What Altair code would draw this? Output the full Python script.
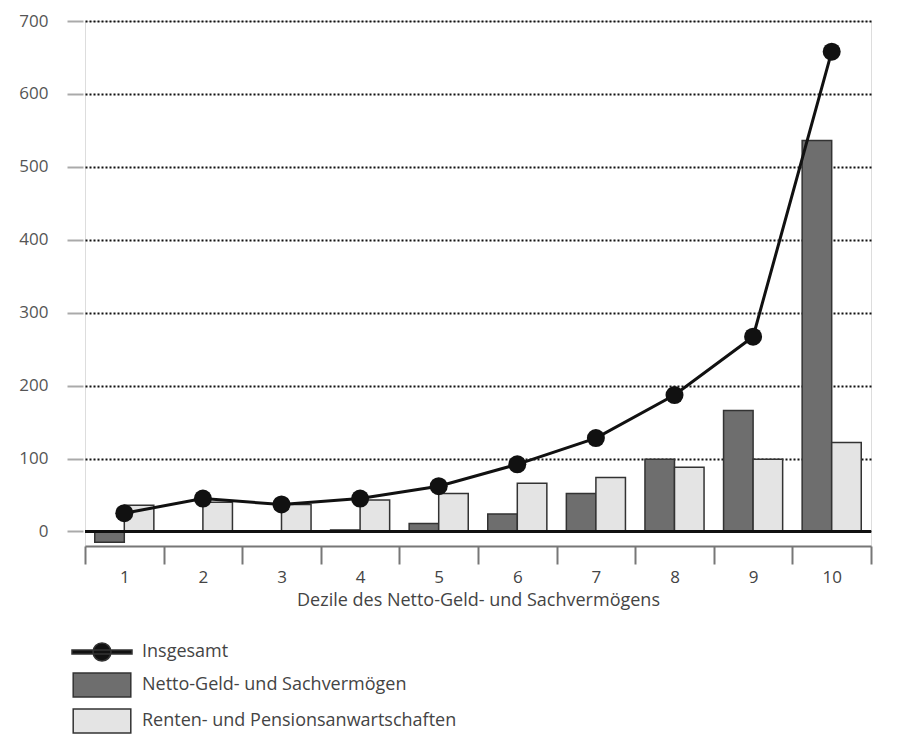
import altair as alt
import pandas as pd

deciles = ["1", "2", "3", "4", "5", "6", "7", "8", "9", "10"]
insgesamt = [25, 45, 37, 45, 62, 92, 128, 187, 267, 658]
netto = [-15, 0, 0, 2, 11, 24, 52, 99, 166, 536]
renten = [36, 40, 37, 43, 52, 66, 74, 88, 99, 122]

series_names = ["Insgesamt", "Netto-Geld- und Sachvermögen", "Renten- und Pensionsanwartschaften"]
series_colors = ["#111111", "#6e6e6e", "#e4e4e4"]
y_ticks = [0, 100, 200, 300, 400, 500, 600, 700]
x_title = "Dezile des Netto-Geld- und Sachvermögens"

LINE_SYM = "M-2.5,-0.17H2.5V0.17H-2.5Z M-0.75,0A0.75,0.75 0 1,1 0.75,0A0.75,0.75 0 1,1 -0.75,0Z"
RECT_SYM = "M-2.4,-1H2.4V1H-2.4Z"

FONT = "Open Sans"

bars_df = pd.DataFrame({
    "Dezil": deciles * 2,
    "Serie": [series_names[1]] * len(deciles) + [series_names[2]] * len(deciles),
    "Wert": netto + renten,
})
line_df = pd.DataFrame({"Dezil": deciles, "Wert": insgesamt})
legend_df = pd.DataFrame({"Serie": series_names})

x_enc = alt.X(
    "Dezil:N", sort=deciles,
    scale=alt.Scale(paddingInner=0, paddingOuter=0),
    axis=alt.Axis(
        title=x_title, tickBand="extent", labelAngle=0, grid=False,
        domainColor="#777", domainWidth=2, tickColor="#777", tickWidth=2, tickSize=18,
        labelPadding=5, labelFontSize=17, labelColor="#444", labelFont=FONT,
        titleFontSize=18, titleColor="#444", titleFont=FONT, titleFontWeight="normal", titlePadding=6,
    ),
)
y_enc = alt.Y(
    "Wert:Q",
    scale=alt.Scale(domain=[-20, 700], nice=False, zero=False),
    axis=alt.Axis(
        title=None, values=y_ticks, domain=False, offset=2,
        tickColor="#aaa", tickSize=16, tickWidth=2, labelPadding=19,
        labelFontSize=17, labelColor="#555", labelFont=FONT,
        grid=True, gridColor="#111", gridDash=[2, 2], gridWidth=2,
    ),
)

legend_spec = alt.Legend(
    title=None, orient="none", legendX=4, legendY=618, padding=0,
    symbolSize=576, labelOffset=27, rowPadding=6, labelLimit=0,
    labelFontSize=18, labelColor="#444", labelFont=FONT,
    symbolStrokeColor="#333", symbolStrokeWidth=1.5,
)
fill_scale = alt.Scale(domain=series_names, range=series_colors)

bars = alt.Chart(bars_df).mark_bar(stroke="#333", strokeWidth=1.5).encode(
    x=x_enc,
    xOffset=alt.XOffset("Serie:N", sort=series_names[1:],
                        scale=alt.Scale(paddingInner=0, paddingOuter=0.33)),
    y=y_enc,
    fill=alt.Fill("Serie:N", scale=fill_scale, legend=legend_spec),
)

zero = alt.Chart(line_df).mark_rule(color="#111", strokeWidth=2).encode(y=alt.datum(0))

line = alt.Chart(line_df).mark_line(color="#111", strokeWidth=3).encode(x=x_enc, y=y_enc)
points = alt.Chart(line_df).mark_point(filled=True, color="#111", size=324, opacity=1, shape="circle").encode(
    x=x_enc, y=y_enc)

legend_layer = alt.Chart(legend_df).transform_filter("false").mark_point(
    filled=True, opacity=1, stroke="#333", strokeWidth=1.5).encode(
    fill=alt.Fill("Serie:N", scale=fill_scale, legend=legend_spec),
    shape=alt.Shape("Serie:N", scale=alt.Scale(domain=series_names, range=[LINE_SYM, RECT_SYM, RECT_SYM]),
                    legend=legend_spec),
)

chart = alt.layer(bars, zero, line, points, legend_layer).properties(
    width=786, height=525, autosize="none",
    padding={"left": 77, "top": 13, "right": 30, "bottom": 190},
).configure_view(stroke=None).configure(font=FONT)

chart.save("out.html", embed_options={"renderer": "svg", "actions": False})
